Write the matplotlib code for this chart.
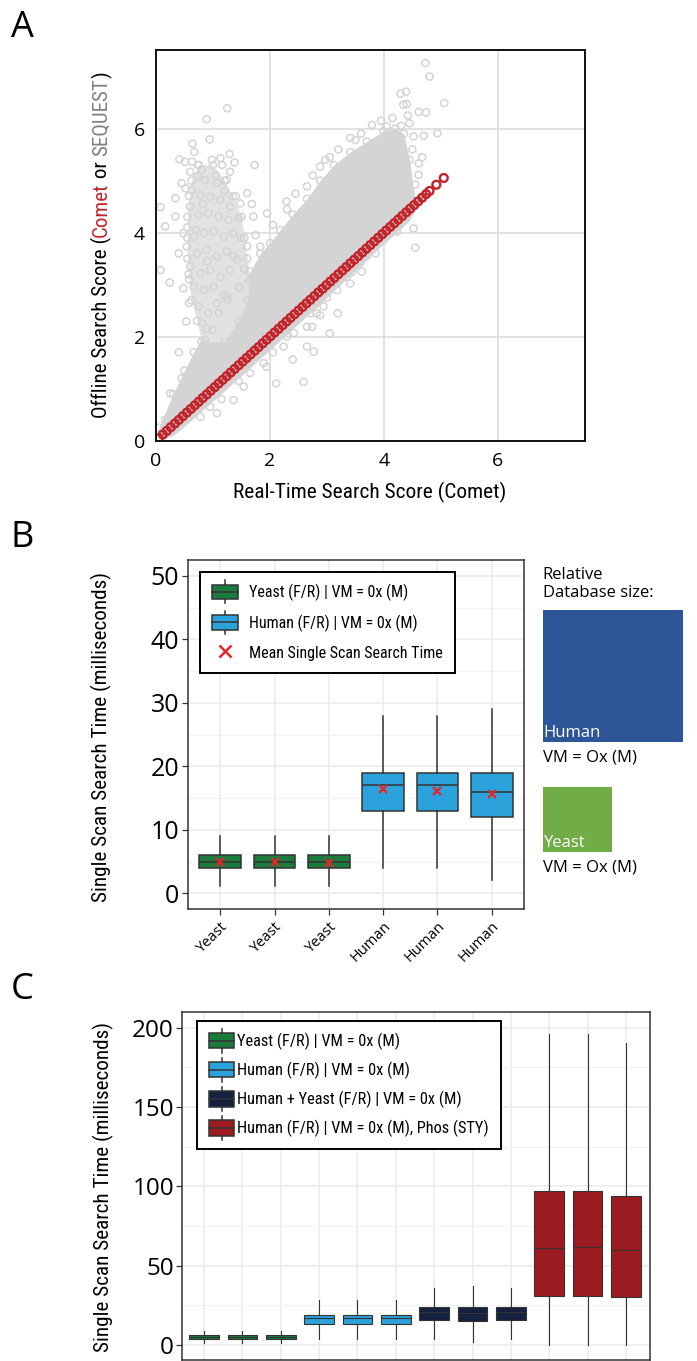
import numpy as np
import matplotlib
matplotlib.use("Agg")
import matplotlib.pyplot as plt
from matplotlib import font_manager as fm
from matplotlib.patches import Patch, Rectangle
from matplotlib.lines import Line2D
from matplotlib.legend_handler import HandlerBase

W, H = 697, 1361

# ---------------- data ----------------
# panel A: realtime vs offline search scores
red_scores = [0.05, 0.12, 0.19, 0.26, 0.33, 0.40, 0.47, 0.54, 0.61, 0.68, 0.75, 0.82,
              0.89, 0.96, 1.03, 1.10, 1.17, 1.24, 1.31, 1.38, 1.45, 1.52, 1.59, 1.66,
              1.73, 1.80, 1.87, 1.94, 2.01, 2.08, 2.15, 2.22, 2.29, 2.36, 2.43, 2.50,
              2.57, 2.64, 2.71, 2.78, 2.85, 2.92, 2.99, 3.06, 3.13, 3.20, 3.27, 3.34,
              3.41, 3.48, 3.55, 3.62, 3.69, 3.76, 3.83, 3.90, 3.97, 4.04, 4.11, 4.18,
              4.25, 4.32, 4.39, 4.46, 4.53, 4.60, 4.67, 4.74, 4.80, 4.92, 5.05]
# dense core of the grey cloud (lower / upper edge per realtime score)
core_x = [0.05, 0.3, 0.5, 0.66, 0.89, 1.1, 1.25, 1.45, 1.65, 1.83, 2.0, 2.18, 2.4, 2.65,
          2.88, 3.12, 3.41, 3.7, 3.99, 4.2, 4.35, 4.45, 4.55]
core_upper = [0.25, 0.9, 1.35, 1.7, 2.15, 2.45, 2.7, 2.95, 3.25, 3.6, 3.8, 4.05, 4.35, 4.65,
              5.0, 5.3, 5.55, 5.75, 5.95, 6.0, 5.9, 5.4, 4.6]
core_lower = [0.0, 0.1, 0.28, 0.43, 0.66, 0.86, 1.01, 1.2, 1.4, 1.58, 1.75, 1.93, 2.15, 2.4,
              2.63, 2.88, 3.18, 3.48, 3.78, 3.98, 4.13, 4.23, 4.43]
# looser plume of high offline scores at low realtime scores (left / right edge per offline score)
plume_y = [1.9, 2.3, 2.7, 3.1, 3.5, 3.9, 4.3, 4.7, 5.0, 5.3]
plume_left = [0.8, 0.72, 0.62, 0.58, 0.55, 0.55, 0.55, 0.58, 0.62, 0.75]
plume_right = [1.2, 1.45, 1.6, 1.65, 1.6, 1.55, 1.5, 1.35, 1.2, 1.0]
# scattered grey points outside the core
plume_pts = [(1.25, 6.39), (0.89, 6.18), (0.94, 5.79), (0.64, 5.71), (0.41, 5.41), (1.29, 5.51),
             (1.73, 5.30), (0.08, 4.49), (0.34, 4.66), (0.34, 4.31), (0.16, 4.12), (0.08, 3.28),
             (0.24, 3.04), (0.48, 2.93), (0.53, 2.29), (0.40, 1.70), (1.60, 4.76), (1.71, 4.31),
             (1.60, 3.74), (1.36, 3.54), (1.25, 2.77), (2.29, 4.60), (1.95, 4.37), (1.83, 3.73),
             (0.51, 5.36), (0.63, 5.36), (0.74, 5.30), (0.80, 5.21), (0.98, 5.40), (1.13, 5.43),
             (1.16, 5.30), (1.30, 5.17), (0.60, 5.17), (0.72, 5.08), (0.86, 5.01), (1.07, 4.95),
             (1.24, 5.01), (0.63, 4.82), (0.78, 4.72), (0.95, 4.69), (1.13, 4.63), (1.30, 4.50),
             (1.48, 4.56), (0.60, 4.50), (0.75, 4.34), (0.92, 4.37), (1.10, 4.31), (1.27, 4.24),
             (1.45, 4.28), (0.48, 3.99), (0.66, 3.92), (0.84, 3.99), (1.01, 4.02), (1.19, 3.92),
             (1.36, 3.99), (0.54, 3.73), (0.72, 3.60), (0.89, 3.67), (1.07, 3.54), (1.24, 3.64),
             (1.42, 3.48), (0.60, 3.35), (0.78, 3.22), (0.95, 3.28), (1.13, 3.15), (1.30, 3.28),
             (0.66, 2.96), (0.84, 2.90), (1.01, 2.96), (1.19, 2.80), (0.75, 2.58), (0.92, 2.45),
             (1.07, 2.64), (0.81, 2.26), (0.99, 2.13), (0.86, 1.94), (0.70, 4.05), (0.82, 4.55),
             (1.05, 5.10), (0.55, 4.10), (1.20, 4.80), (0.90, 3.45), (1.50, 3.90), (1.40, 4.70),
             (0.52, 4.85), (0.57, 3.20), (0.58, 2.65), (1.55, 3.30), (1.62, 3.05), (1.47, 2.95),
             (1.38, 5.35), (0.67, 5.55), (0.45, 4.95), (0.40, 3.60), (1.75, 3.95), (1.68, 4.55)]
upper_pts = [(4.73, 7.26), (4.80, 7.00), (4.29, 6.67), (4.39, 6.71), (4.34, 6.46), (4.40, 6.47),
             (5.06, 6.49), (4.61, 6.32), (4.74, 6.31), (4.94, 5.91), (4.70, 5.86), (4.67, 5.45),
             (4.61, 5.33), (4.61, 5.11), (4.55, 4.92), (4.46, 4.76), (4.52, 4.08), (4.55, 3.71),
             (4.23, 4.02), (3.85, 3.60), (3.61, 3.25), (3.19, 2.45), (3.05, 2.06), (2.74, 2.19),
             (2.88, 2.41), (3.18, 2.89), (3.41, 3.02), (4.05, 6.04), (3.79, 6.07), (3.41, 5.82),
             (2.97, 5.40), (2.88, 5.27), (2.65, 4.89), (4.15, 6.20), (4.45, 6.10), (4.30, 6.05),
             (3.60, 5.90), (3.20, 5.60), (4.50, 5.60), (4.52, 5.85), (2.45, 4.75), (2.30, 4.45),
             (2.05, 4.15), (3.95, 6.15), (3.50, 5.78), (3.05, 5.45), (2.75, 5.10), (4.42, 6.25)]
lower_pts = [(2.65, 1.81), (2.77, 1.71), (2.40, 1.56), (2.59, 1.13), (2.11, 1.10), (1.94, 1.42),
             (1.65, 1.30), (1.54, 1.04), (1.36, 0.78), (1.07, 0.53), (0.78, 0.46), (0.48, 0.40),
             (0.25, 0.91), (0.16, 0.40), (0.45, 1.20), (1.83, 1.68), (1.89, 1.49), (1.65, 1.55),
             (1.48, 1.42), (1.30, 1.23), (1.19, 1.04), (1.01, 0.91), (0.89, 0.78), (0.72, 0.65),
             (0.60, 0.53), (2.24, 1.81), (2.42, 2.07), (2.65, 2.19), (2.82, 2.45), (2.71, 2.45),
             (2.94, 2.58), (3.18, 3.03), (3.35, 3.15), (3.58, 3.41), (3.82, 3.73), (3.99, 3.86),
             (4.17, 4.05), (4.35, 4.31), (1.15, 0.80), (0.95, 0.65), (1.45, 1.15), (2.05, 1.70),
             (2.30, 2.00), (3.00, 2.75), (3.45, 3.25), (3.70, 3.55)]

# panel B: single scan search time (ms)
b_labels = ["Yeast", "Yeast", "Yeast", "Human", "Human", "Human"]
b_q1 = [4, 4, 4, 13, 13, 12]
b_med = [5, 5, 5, 17, 17, 16]
b_q3 = [6, 6, 6, 19, 19, 19]
b_lo = [1.1, 1.1, 1.1, 4, 4, 2.1]
b_hi = [9, 9, 9, 28, 28, 29]
b_mean = [5.0, 5.0, 4.8, 16.4, 16.2, 15.7]
b_group = [0, 0, 0, 1, 1, 1]

db_names = ["Human", "Yeast"]
db_rel_size = [1.0, 0.245]

# panel C
c_q1 = [4, 4, 4, 13, 13, 13, 16, 15, 16, 31, 31, 30]
c_med = [5, 5, 5, 17, 17, 17, 21, 20, 21, 61, 62, 60]
c_q3 = [6, 6, 6, 19, 19, 19, 24, 24, 24, 97, 97, 94]
c_lo = [1, 1, 1, 4, 4, 4, 4, 2, 4, 0, 0, 0]
c_hi = [9, 9, 9, 28, 28, 28, 36, 37, 36, 196, 196, 190]
c_group = [0, 0, 0, 1, 1, 1, 2, 2, 2, 3, 3, 3]

legend_b = ["Yeast (F/R) | VM = 0x (M)", "Human (F/R) | VM = 0x (M)", "Mean Single Scan Search Time"]
legend_c = ["Yeast (F/R) | VM = 0x (M)", "Human (F/R) | VM = 0x (M)",
            "Human + Yeast (F/R) | VM = 0x (M)", "Human (F/R) | VM = 0x (M), Phos (STY)"]

# ---------------- styles ----------------
GREEN, BLUE, NAVY, DRED = "#1b7b3d", "#2ca2dc", "#14213f", "#9c1b20"
box_colors = [GREEN, BLUE, NAVY, DRED]
db_colors = ["#2c5697", "#70ad47"]
GREY = "#d4d4d4"
RED = "#c4222a"

avail = {f.name for f in fm.fontManager.ttflist}
COND = {"family": "Roboto"}
for cand in ["Liberation Sans Narrow", "Roboto Condensed", "Open Sans Condensed", "Roboto"]:
    if cand in avail:
        COND = {"family": cand}
        break
REG = "Open Sans" if "Open Sans" in avail else "DejaVu Sans"
plt.rcParams["font.family"] = REG

fig = plt.figure(figsize=(W / 100, H / 100), dpi=100)
renderer = fig.canvas.get_renderer()


def px(x, y):
    return x / W, 1 - y / H


def axes_px(x0, y0, x1, y1):
    return fig.add_axes([x0 / W, 1 - y1 / H, (x1 - x0) / W, (y1 - y0) / H])


def fit_size(s, target, **kw):
    t = fig.text(0, 0, s, size=20, **kw)
    w = t.get_window_extent(renderer).width
    t.remove()
    return 20 * target / w


class BoxGlyph(HandlerBase):
    def create_artists(self, legend, orig, xd, yd, width, height, fontsize, trans):
        x0, y0 = -xd, -yd
        ec, lw = orig.get_edgecolor(), orig.get_linewidth()
        cx = x0 + width / 2
        wl = Line2D([cx, cx], [y0 - 0.3 * height, y0 + 1.3 * height], color=ec, lw=lw, transform=trans)
        box = Rectangle((x0, y0), width, height, facecolor=orig.get_facecolor(),
                        edgecolor=ec, lw=lw, transform=trans)
        med = Line2D([x0, x0 + width], [y0 + height / 2] * 2, color=ec, lw=lw, transform=trans)
        return [wl, box, med]


def style_gg(ax, spine_lw=1.1):
    ax.set_facecolor("white")
    for s in ax.spines.values():
        s.set_color("#333333")
        s.set_linewidth(spine_lw)
    ax.grid(True, which="major", color="#ebebeb", lw=1.1, zorder=0)
    ax.grid(True, which="minor", axis="y", color="#f2f2f2", lw=0.8, zorder=0)
    ax.set_axisbelow(True)
    ax.tick_params(which="minor", length=0)
    ax.tick_params(which="major", color="#333333", length=4, width=0.9)


def draw_boxes(ax, q1, med, q3, lo, hi, groups, lw, mean=None):
    stats = []
    for i in range(len(q1)):
        d = dict(q1=q1[i], med=med[i], q3=q3[i], whislo=lo[i], whishi=hi[i], fliers=[])
        if mean is not None:
            d["mean"] = mean[i]
        stats.append(d)
    pos = np.arange(1, len(q1) + 1)
    edge = "#333333"
    bp = ax.bxp(stats, positions=pos, widths=0.77, patch_artist=True, showcaps=False,
                showfliers=False, showmeans=mean is not None,
                boxprops=dict(edgecolor=edge, linewidth=lw),
                medianprops=dict(color=edge, linewidth=lw),
                whiskerprops=dict(color=edge, linewidth=lw),
                meanprops=dict(marker="x", markeredgecolor="#e8242b", markersize=6, markeredgewidth=1.6))
    for p, g in zip(bp["boxes"], groups):
        p.set_facecolor(box_colors[g])
    return pos


def box_legend(ax, handles, labels, anchor, size, hl, hh, htp, pitch, bpad):
    em = size * 100 / 72
    leg = ax.legend(handles, labels, loc="upper left", bbox_to_anchor=anchor, borderaxespad=0,
                    handler_map={Patch: BoxGlyph()}, prop=fm.FontProperties(size=size, **COND),
                    frameon=True, fancybox=False, edgecolor="black", framealpha=1,
                    handlelength=hl / em, handleheight=hh / em, handletextpad=htp / em,
                    labelspacing=(pitch - 1.17 * em) / em, borderpad=bpad / em)
    leg.get_frame().set_linewidth(1.4)
    return leg


# ---------------- panel A ----------------
axA = axes_px(156, 50, 584.5, 440.7)
axA.fill_between(core_x, core_lower, core_upper, color=GREY, lw=0, zorder=2)
axA.fill_betweenx(plume_y, plume_left, plume_right, color="#e2e2e2", lw=0, zorder=2)
pts = plume_pts + upper_pts + lower_pts
gx = [p[0] for p in pts] + core_x + plume_left + plume_right
gy = [p[1] for p in pts] + core_upper + plume_y + plume_y
axA.scatter(gx, gy, s=26, facecolors="none", edgecolors=GREY, linewidths=1.1, zorder=3)
axA.scatter(red_scores, red_scores, s=32, facecolors="none", edgecolors=RED, linewidths=1.7, zorder=4)
axA.set_xlim(0, 7.52)
axA.set_ylim(0, 7.51)
axA.set_xticks([0, 2, 4, 6])
axA.set_yticks([0, 2, 4, 6])
axA.grid(True, color="#dadada", lw=1.1)
axA.set_axisbelow(True)
for s in axA.spines.values():
    s.set_linewidth(1.4)
    s.set_color("#111111")
    s.set_zorder(5)
axA.tick_params(length=0, labelsize=14, pad=8)

xl = "Real-Time Search Score (Comet)"
fig.text(*px(370, 492), xl, ha="center", va="center", size=fit_size(xl, 274, **COND), **COND)

# multi coloured y label
parts = [("Offline Search Score (", "black"), ("Comet", RED), (" or ", "black"),
         ("SEQUEST", "#808080"), (")", "black")]
ysize = fit_size("".join(p[0] for p in parts), 346, **COND)
texts, total = [], 0
for s, c in parts:
    t = fig.text(0, 0, s, rotation=90, rotation_mode="anchor", ha="left", va="center",
                 color=c, size=ysize, **COND)
    h = t.get_window_extent(renderer).height
    texts.append((t, h))
    total += h
ycur = (H - 245) - total / 2
for t, h in texts:
    t.set_position((101.5 / W, ycur / H))
    ycur += h

# ---------------- panel B ----------------
ylab = "Single Scan Search Time (milliseconds)"
ylab_size = fit_size(ylab, 330, **COND)

axB = axes_px(187.7, 560, 524.3, 909.3)
style_gg(axB)
posB = draw_boxes(axB, b_q1, b_med, b_q3, b_lo, b_hi, b_group, 1.1, mean=b_mean)
axB.set_xlim(0.4, 6.6)
axB.set_ylim(-2.5, 52.5)
axB.set_yticks([0, 10, 20, 30, 40, 50])
axB.set_yticks([5, 15, 25, 35, 45], minor=True)
axB.set_xticks(posB)
axB.set_xticklabels(b_labels, rotation=45, ha="right", rotation_mode="anchor", size=10.5)
axB.tick_params(axis="y", labelsize=18, pad=2)
axB.tick_params(axis="x", pad=3)
hB = [Patch(facecolor=GREEN, edgecolor="#333333", linewidth=1.1),
      Patch(facecolor=BLUE, edgecolor="#333333", linewidth=1.1),
      Line2D([], [], ls="none", marker="x", color="#e8242b", markersize=8, markeredgewidth=1.8)]
sizeB = fit_size(legend_b[2], 194, **COND)
box_legend(axB, hB, legend_b, (0.037, 0.966), sizeB, 26, 16, 10.7, 32, 12)
fig.text(*px(101.5, 736.7), ylab, rotation=90, ha="center", va="center", size=ylab_size, **COND)

# relative database size squares
axD = fig.add_axes([0, 0, 1, 1], zorder=-1)
axD.set_xlim(0, W)
axD.set_ylim(H, 0)
axD.axis("off")
fig.text(*px(542.7, 567), "Relative\nDatabase size:", ha="left", va="top", size=12, linespacing=1.2)
tops = [610, 786.7]
for name, rel, col, top in zip(db_names, db_rel_size, db_colors, tops):
    w, h = 140 * np.sqrt(rel), 132 * np.sqrt(rel)
    axD.add_patch(Rectangle((542.7, top), w, h, facecolor=col, edgecolor="none"))
    axD.text(543.5, top + h - 1, name, color="white", ha="left", va="bottom", size=12)
    axD.text(542.7, top + h + 15, "VM = Ox (M)", ha="left", va="center", size=12)

# ---------------- panel C ----------------
axC = axes_px(182.3, 1011.7, 650, 1360)
style_gg(axC)
posC = draw_boxes(axC, c_q1, c_med, c_q3, c_lo, c_hi, c_group, 0.8)
axC.set_xlim(0.43, 12.63)
axC.set_ylim(-9.5, 210)
axC.set_yticks([0, 50, 100, 150, 200])
axC.set_yticks([25, 75, 125, 175], minor=True)
axC.set_xticks(posC)
axC.tick_params(axis="x", labelbottom=False, length=0)
axC.tick_params(axis="y", labelsize=17.5, pad=2)
hC = [Patch(facecolor=c, edgecolor="#333333", linewidth=1.1) for c in box_colors]
sizeC = fit_size(legend_c[3], 253, **COND)
box_legend(axC, hC, legend_c, (0.032, 0.973), sizeC, 25, 17, 3, 31, 12)
fig.text(*px(103, 1186.7), ylab, rotation=90, ha="center", va="center", size=ylab_size, **COND)

# panel letters
for letter, y in [("A", 28), ("B", 538), ("C", 990)]:
    fig.text(*px(11, y), letter, ha="left", va="center", size=26)

fig.savefig("out.png", dpi=100)
